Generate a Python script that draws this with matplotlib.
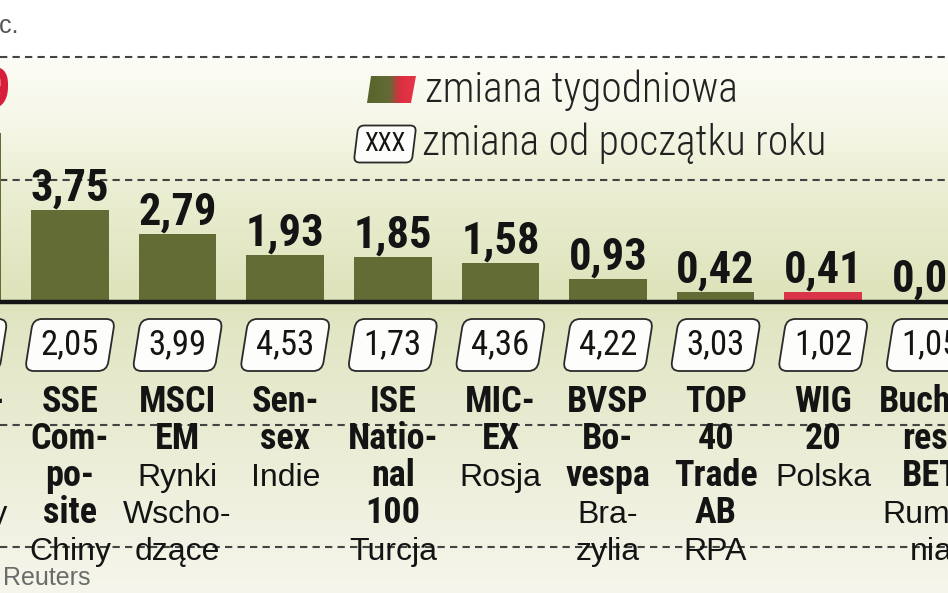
import numpy as np
import matplotlib.pyplot as plt
from matplotlib import font_manager
from matplotlib.patches import FancyBboxPatch, Polygon
from matplotlib.transforms import Affine2D

# indeksy, kraje i zmiany w %
indeksy = ["Buda-\npest\nSE", "SSE\nCom-\npo-\nsite", "MSCI\nEM", "Sen-\nsex",
           "ISE\nNatio-\nnal\n100", "MIC-\nEX", "BVSP\nBo-\nvespa",
           "TOP\n40\nTrade\nAB", "WIG\n20", "Bucha-\nrest\nBET"]
kraje = ["Węgry", "Chiny", "Rynki\nWscho-\ndzące", "Indie", "Turcja", "Rosja",
         "Bra-\nzylia", "RPA", "Polska", "Rumu-\nnia"]
tydzien = [6.89, 3.75, 2.79, 1.93, 1.85, 1.58, 0.93, 0.42, 0.41, 0.04]
od_poczatku = [5.12, 2.05, 3.99, 4.53, 1.73, 4.36, 4.22, 3.03, 1.02, 1.05]

installed = {f.name for f in font_manager.fontManager.ttflist}

def pick(cands, default='DejaVu Sans'):
    for c in cands:
        if c in installed:
            return c
    return default

COND = pick(['Roboto Condensed', 'Archivo Narrow', 'Barlow Semi Condensed', 'Liberation Sans Narrow'])
REG = pick(['Liberation Sans', 'Arimo'])

def fmt(v):
    return f"{v:.2f}".replace('.', ',')

W, H = 948, 593
fig = plt.figure(figsize=(W / 100, H / 100), dpi=100)
ax = fig.add_axes([0, 0, 1, 1])
step = 107.6          # px between categories
x0 = 1 - 70 / step    # category index at left edge
base = 302            # baseline in px from top
unit = 24.5           # px per 1 %
xl = (x0, x0 + W / step)
yl = (-(H - base) / unit, base / unit)
ax.set_xlim(*xl)
ax.set_ylim(*yl)
ax.set_autoscale_on(False)
ax.axis('off')

def px(x):
    return x0 + x / step

def py(y):
    return (base - y) / unit

# tło
rows = np.arange(H)
stops = [0, 55, 60, 120, 180, 295, 330, 450, 593]
cols = np.array([[255, 255, 255], [255, 255, 255], [252, 252, 246], [246, 247, 232],
                 [236, 239, 212], [222, 227, 187], [226, 230, 196], [235, 237, 214],
                 [246, 246, 236]]) / 255
bg = np.stack([np.interp(rows, stops, cols[:, k]) for k in range(3)], axis=1)[:, None, :]
ax.imshow(bg, extent=[xl[0], xl[1], yl[0], yl[1]], aspect='auto', zorder=0)

for g in [10, 5, -5, -10]:
    ax.axhline(g, color='#444444', lw=1.5, ls=(0, (3.5, 2.5)), zorder=1)

idx = np.arange(len(tydzien))
colors = ['#d93448' if k == 'Polska' else '#646c35' for k in kraje]
ax.bar(idx, tydzien, width=0.72, color=colors, zorder=2)
ax.axhline(0, color='#141414', lw=3.2, zorder=3)

for i, v in enumerate(tydzien):
    if i == 0:
        ax.text(i, v + 1.0, fmt(v), ha='center', va='baseline', fontsize=40,
                weight=800, family=COND, color='#d71f3c', zorder=4)
    else:
        ax.text(i, v + 0.38, fmt(v), ha='center', va='baseline', fontsize=32,
                weight=800, family=COND, color='#141414', zorder=4)

def skew_box(cx, cy, w, h, r, ang=9):
    t = Affine2D().translate(-cx, -cy).skew_deg(ang, 0).translate(cx, cy)
    return FancyBboxPatch((cx - w / 2, cy - h / 2), w, h,
                          boxstyle=f'round,pad=0,rounding_size={r}', transform=t,
                          fc='#fdfdfb', ec='#2a2a2a', lw=1.3, zorder=3)

for i, v in enumerate(od_poczatku):
    cy = py(345)
    cxd, cyd = ax.transData.transform((i, cy))
    ax.add_artist(skew_box(cxd, cyd, 82, 52, 9))
    ax.text(i, cy, fmt(v), ha='center', va='center', fontsize=25,
            family=COND, color='#141414', zorder=4)

for i in idx:
    lines = [(s, 'bold', COND) for s in indeksy[i].split('\n')]
    lines += [(s, 'normal', REG) for s in kraje[i].split('\n')]
    for k, (s, w, f) in enumerate(lines):
        ax.text(i, py(412 + 37 * k), s, ha='center', va='baseline', fontsize=23 if w == 'normal' else 26,
                weight=w, family=f, color='#141414', zorder=4)

# legenda
grad_cols = np.array([[86, 101, 44], [100, 106, 53], [217, 47, 64], [232, 55, 74]]) / 255
gx = np.linspace(0, 1, 60)
grad = np.stack([np.interp(gx, [0, 0.45, 0.65, 1], grad_cols[:, k]) for k in range(3)], axis=1)[None, :, :]
poly = Polygon([(px(367), py(103)), (px(371), py(76)), (px(416), py(76)), (px(411), py(103))],
               closed=True, fc='none', ec='none', transform=ax.transData)
ax.add_patch(poly)
im = ax.imshow(grad, extent=[px(366), px(417), py(104), py(75)], aspect='auto', zorder=3)
im.set_clip_path(poly)
cxd, cyd = ax.transData.transform((px(385), py(144)))
ax.add_artist(skew_box(cxd, cyd, 58, 37, 6, ang=7))
ax.text(px(385), py(144), 'XXX', ha='center', va='center', fontsize=18,
        family=COND, color='#141414', zorder=4)
ax.text(px(425), py(102), 'zmiana tygodniowa', va='baseline', fontsize=30,
        family=COND, weight='light', color='#222222', zorder=4)
ax.text(px(422), py(155), 'zmiana od początku roku', va='baseline', fontsize=30,
        family=COND, weight='light', color='#222222', zorder=4)

ax.text(px(19), py(33), 'w proc.', ha='right', va='baseline', fontsize=18,
        family=REG, color='#555555')
ax.text(px(3), py(585), 'Reuters', va='baseline', fontsize=18,
        family=REG, color='#6b6b6b', zorder=4)

fig.savefig('out.png', dpi=100)
